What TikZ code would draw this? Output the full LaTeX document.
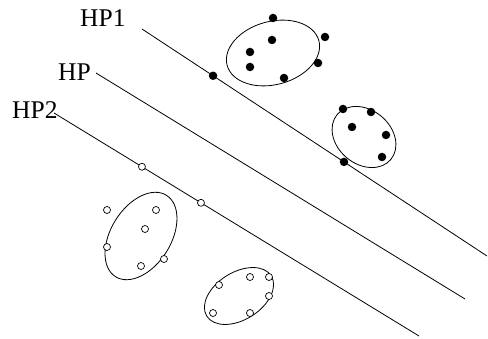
\documentclass[tikz,border=0pt]{standalone}
\usepackage{fontspec}
\setmainfont{Liberation Serif}
\begin{document}
\begin{tikzpicture}[x=1pt,y=1pt,
  hpline/.style={line width=0.8pt},
  cluster/.style={line width=0.8pt},
  fdot/.style={circle,fill=black,inner sep=0pt,minimum size=8.5pt},
  odot/.style={circle,draw=black,fill=white,line width=0.7pt,inner sep=0pt,minimum size=7pt},
  lbl/.style={anchor=base west,inner sep=0pt,font=\fontsize{25.5}{30}\selectfont}]
\useasboundingbox (0,0) rectangle (488,338);
% labels
\node[lbl] (lhp1) at (80,311) {HP1};
\node[lbl] (lhp) at (58,257) {HP};
\node[lbl] (lhp2) at (12,219) {HP2};
% hyperplanes
\coordinate (a1) at (142,309); \coordinate (b1) at (487,82);
\coordinate (a0) at (96,265);  \coordinate (b0) at (465,39);
\coordinate (a2) at (54,225);  \coordinate (b2) at (419,2);
\draw[hpline] (a1) -- (b1);
\draw[hpline] (a0) -- (b0);
\draw[hpline] (a2) -- (b2);
% clusters
\draw[cluster,rotate around={15:(273,285)}] (273,285) ellipse [x radius=47.5, y radius=31.6];
\draw[cluster,rotate around={-40:(364,201)}] (364,201) ellipse [x radius=35, y radius=27];
\draw[cluster,rotate around={58:(141,102)}] (141,102) ellipse [x radius=48, y radius=30];
\draw[cluster,rotate around={32:(239,42)}] (239,42) ellipse [x radius=38, y radius=23.7];
% filled points
\node[fdot] (p1) at (273,320) {};
\node[fdot] (p2) at (272,298) {};
\node[fdot] (p3) at (250,286) {};
\node[fdot] (p4) at (250,271) {};
\node[fdot] (p5) at (284,260) {};
\node[fdot] (p6) at (318,275) {};
\node[fdot] (p7) at (325,301) {};
\path (a1) -- (b1) node[fdot,pos=0.206] (p8) {} node[fdot,pos=0.5855] (p9) {};
\node[fdot] (q1) at (343,229) {};
\node[fdot] (q2) at (371,226) {};
\node[fdot] (q3) at (352,211) {};
\node[fdot] (q4) at (386,203) {};
\node[fdot] (q5) at (382,181) {};
% open points
\node[odot] (r1) at (107,128) {};
\node[odot] (r2) at (156,128) {};
\node[odot] (r3) at (145,109) {};
\node[odot] (r4) at (107,91) {};
\node[odot] (r5) at (141,72) {};
\node[odot] (r6) at (164,79) {};
\path (a2) -- (b2) node[odot,pos=0.241] (r7) {} node[odot,pos=0.4027] (r8) {};
\node[odot] (s1) at (219,53) {};
\node[odot] (s2) at (250,61) {};
\node[odot] (s3) at (269,61) {};
\node[odot] (s4) at (269,42) {};
\node[odot] (s5) at (213,25) {};
\node[odot] (s6) at (250,25) {};
\end{tikzpicture}
\end{document}
